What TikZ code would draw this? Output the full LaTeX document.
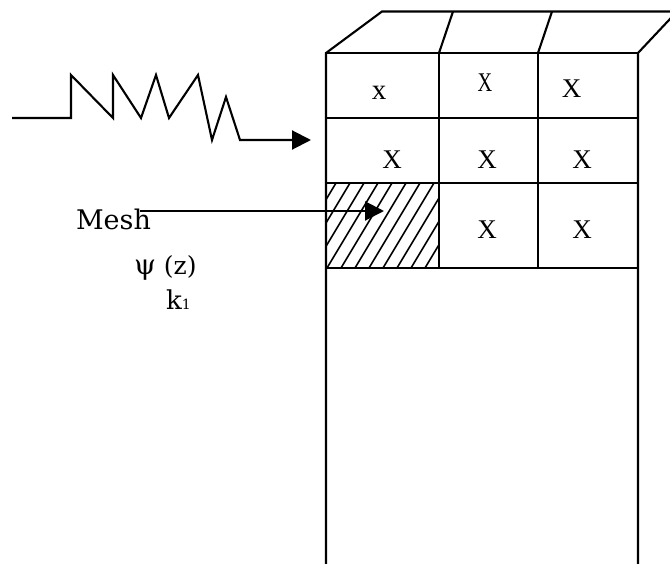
\documentclass[tikz,border=0pt]{standalone}
\usepackage{fontspec}
\newfontfamily\timesf{Liberation Serif}
\newfontfamily\dejaf{DejaVu Serif}
\usetikzlibrary{arrows.meta}
\begin{document}
\begin{tikzpicture}[x=1pt,y=-1pt,line width=2.1pt,
  cellx/.style={font=\timesf\fontsize{27}{30}\selectfont,inner sep=0pt},
  lbl/.style={font=\dejaf\fontsize{27}{30}\selectfont,inner sep=0pt,anchor=base west},
  tipped/.style={-{Triangle[length=19pt,width=19pt]}},
  hatch/.style={line width=1.6pt}]
\useasboundingbox (0,0) rectangle (670,564);
\begin{scope}
  \clip (0,0) rectangle (670,564);
  % front outline and top face
  \draw (326,564) -- (326,53) -- (382,11.5) -- (690,11.5);
  \draw (638,564) -- (638,53) -- (677,11.5);
  \draw (326,53) -- (638,53);
  \draw (439,53) -- (453,11.5);
  \draw (538,53) -- (552,11.5);
  % grid
  \draw (326,118) -- (638,118);
  \draw (326,183) -- (638,183);
  \draw (326,268) -- (638,268);
  \draw (439,53) -- (439,268);
  \draw (538,53) -- (538,268);
\end{scope}
% hatched cell
\begin{scope}
  \clip (326,183) rectangle (439,268);
  \foreach \i in {-6,...,8} \draw[hatch] (327+\i*14,268) -- ++(51,-85);
\end{scope}
% cell marks
\node[cellx,font=\timesf\fontsize{29}{30}\selectfont] (c11) at (379,93) {x};
\node[cellx,xscale=0.75] (c12) at (485,82.5) {X};
\node[cellx] (c13) at (571.5,89) {X};
\node[cellx] (c21) at (392,160) {X};
\node[cellx] (c22) at (487,160) {X};
\node[cellx] (c23) at (582,160) {X};
\node[cellx] (c32) at (487,230) {X};
\node[cellx] (c33) at (582,230) {X};
% zigzag wave arrow
\coordinate (zs) at (12,118);
\coordinate (zt) at (311,140);
\draw[tipped] (zs) -- (71,118) -- (71,75) -- (113,118) -- (113,75) -- (141,118)
  -- (156,75) -- (169,118) -- (198,75) -- (212,140) -- (226,97) -- (240,140) -- (zt);
% labels
\node[lbl] (mesh) at (75,230) {Mesh};
\node[lbl,font=\dejaf\fontsize{25}{28}\selectfont] (psi) at (133,275) {{\fontsize{28}{28}\selectfont ψ} (z)};
\node[lbl,font=\dejaf\fontsize{26}{28}\selectfont] (k) at (165,310) {k{\fontsize{14}{16}\selectfont 1}};
% mesh arrow
\coordinate (ms) at (140,211);
\coordinate (mt) at (384,211);
\draw[tipped] (ms) -- (mt);
\end{tikzpicture}
\end{document}
